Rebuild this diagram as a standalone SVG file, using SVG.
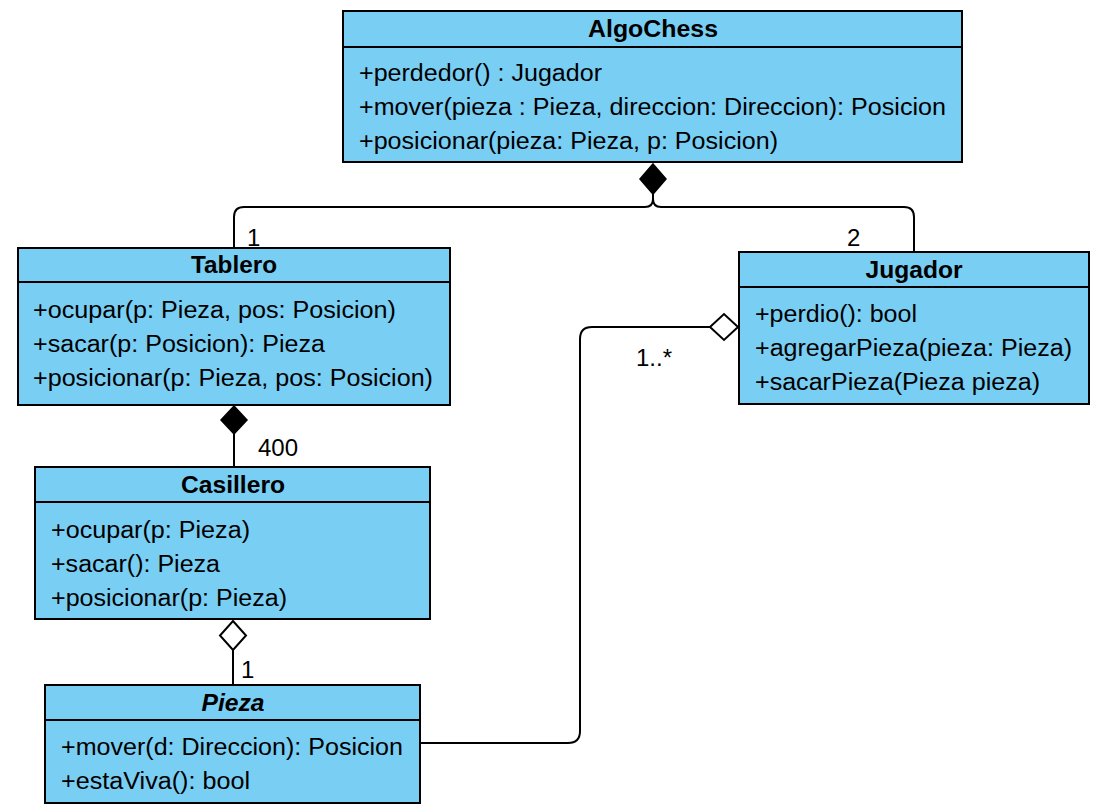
<svg xmlns="http://www.w3.org/2000/svg" width="1111" height="809" viewBox="0 0 1111 809">
<defs>
<style>
.box{fill:#79CEF4;stroke:#000;stroke-width:2}
.sep{stroke:#000;stroke-width:2}
.t{font-family:"Liberation Sans",Arial,sans-serif;font-size:23px;fill:#000}
.h{font-family:"Liberation Sans",Arial,sans-serif;font-size:23px;font-weight:bold;fill:#000;text-anchor:middle}
.conn{fill:none;stroke:#000;stroke-width:2}
.filled{fill:#000;stroke:#000;stroke-width:1.5}
.hollow{fill:#fff;stroke:#000;stroke-width:2}
.lbl{font-family:"Liberation Sans",Arial,sans-serif;font-size:24px;fill:#000}
</style>
</defs>
<rect width="1111" height="809" fill="#fff"/>

<g id="connectors">
<path class="conn" d="M653 194 V199 Q653 207 645 207 H244 Q234 207 234 217 V248"/>
<path class="conn" d="M653 194 V199 Q653 207 661 207 H904 Q914 207 914 217 V252"/>
<path class="conn" d="M234 434 V467"/>
<path class="conn" d="M233 650 V685"/>
<path class="conn" d="M420 743 H568 Q580 743 580 731 V339 Q580 327 592 327 H710"/>
<polygon class="filled" points="653,164 666,179 653,194 640,179"/>
<polygon class="filled" points="234,406 247,420 234,434 221,420"/>
<polygon class="hollow" points="233,621 246,635.5 233,650 220,635.5"/>
<polygon class="hollow" points="738,327 724,340 710,327 724,314"/>
<text class="lbl" x="247" y="246">1</text>
<text class="lbl" x="847" y="246">2</text>
<text class="lbl" x="258" y="456">400</text>
<text class="lbl" x="241" y="678">1</text>
<text class="lbl" x="636" y="366">1..*</text>
</g>

<g id="AlgoChess">
<rect class="box" x="343" y="11" width="619" height="151"/>
<line class="sep" x1="343" y1="47" x2="962" y2="47"/>
<text class="h" x="653" y="37" textLength="130" lengthAdjust="spacingAndGlyphs">AlgoChess</text>
<text class="t" x="359" y="81" textLength="243" lengthAdjust="spacingAndGlyphs">+perdedor() : Jugador</text>
<text class="t" x="359" y="115" textLength="587" lengthAdjust="spacingAndGlyphs">+mover(pieza : Pieza, direccion: Direccion): Posicion</text>
<text class="t" x="359" y="149" textLength="419" lengthAdjust="spacingAndGlyphs">+posicionar(pieza: Pieza, p: Posicion)</text>
</g>

<g id="Tablero">
<rect class="box" x="18" y="248" width="432" height="157"/>
<line class="sep" x1="18" y1="282" x2="450" y2="282"/>
<text class="h" x="234" y="273" textLength="86" lengthAdjust="spacingAndGlyphs">Tablero</text>
<text class="t" x="33" y="318" textLength="363" lengthAdjust="spacingAndGlyphs">+ocupar(p: Pieza, pos: Posicion)</text>
<text class="t" x="33" y="352" textLength="292" lengthAdjust="spacingAndGlyphs">+sacar(p: Posicion): Pieza</text>
<text class="t" x="33" y="386" textLength="400" lengthAdjust="spacingAndGlyphs">+posicionar(p: Pieza, pos: Posicion)</text>
</g>

<g id="Casillero">
<rect class="box" x="35" y="467" width="395" height="152"/>
<line class="sep" x1="35" y1="502" x2="430" y2="502"/>
<text class="h" x="233" y="493" textLength="104" lengthAdjust="spacingAndGlyphs">Casillero</text>
<text class="t" x="51" y="538" textLength="199" lengthAdjust="spacingAndGlyphs">+ocupar(p: Pieza)</text>
<text class="t" x="51" y="572" textLength="169" lengthAdjust="spacingAndGlyphs">+sacar(): Pieza</text>
<text class="t" x="51" y="606" textLength="236" lengthAdjust="spacingAndGlyphs">+posicionar(p: Pieza)</text>
</g>

<g id="Pieza">
<rect class="box" x="45" y="685" width="375" height="118"/>
<line class="sep" x1="45" y1="720" x2="420" y2="720"/>
<text class="h" x="233" y="711" font-style="italic" textLength="63" lengthAdjust="spacingAndGlyphs">Pieza</text>
<text class="t" x="61" y="755" textLength="342" lengthAdjust="spacingAndGlyphs">+mover(d: Direccion): Posicion</text>
<text class="t" x="61" y="789" textLength="189" lengthAdjust="spacingAndGlyphs">+estaViva(): bool</text>
</g>

<g id="Jugador">
<rect class="box" x="739" y="252" width="350" height="152"/>
<line class="sep" x1="739" y1="287" x2="1089" y2="287"/>
<text class="h" x="914" y="278" textLength="97" lengthAdjust="spacingAndGlyphs">Jugador</text>
<text class="t" x="755" y="322" textLength="162" lengthAdjust="spacingAndGlyphs">+perdio(): bool</text>
<text class="t" x="755" y="356" textLength="317" lengthAdjust="spacingAndGlyphs">+agregarPieza(pieza: Pieza)</text>
<text class="t" x="755" y="390" textLength="285" lengthAdjust="spacingAndGlyphs">+sacarPieza(Pieza pieza)</text>
</g>
</svg>
